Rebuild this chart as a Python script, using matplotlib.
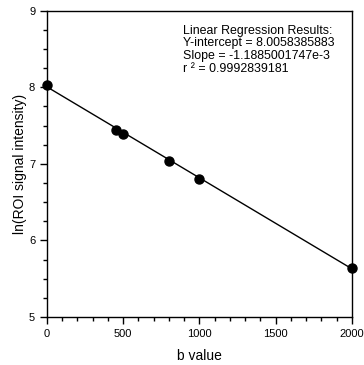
import matplotlib
matplotlib.use("Agg")
import matplotlib.pyplot as plt
import numpy as np
from matplotlib.ticker import MultipleLocator

plt.rcParams['font.family'] = ['Liberation Sans', 'DejaVu Sans']

# data
b_values = [0, 450, 500, 800, 1000, 2000]
ln_signal = [8.03, 7.447, 7.386, 7.04, 6.807, 5.637]

intercept = 8.0058385883
slope = -1.1885001747e-3
r2 = 0.9992839181

fig = plt.figure(figsize=(3.64, 3.65), dpi=100)
ax = fig.add_axes([0.129, 0.1315, 0.838, 0.839])

xfit = np.array([0, 2000])
ax.plot(xfit, intercept + slope * xfit, color='black', lw=1)
ax.plot(b_values, ln_signal, 'o', color='black', markersize=6.5, clip_on=False, zorder=3)

ax.set_xlim(0, 2000)
ax.set_ylim(5, 9)
ax.xaxis.set_major_locator(MultipleLocator(500))
ax.xaxis.set_minor_locator(MultipleLocator(100))
ax.yaxis.set_major_locator(MultipleLocator(1))
ax.yaxis.set_minor_locator(MultipleLocator(0.25))
ax.tick_params(which='both', direction='out', top=False, right=False, labelsize=8, width=1)
ax.tick_params(which='major', length=5)
ax.tick_params(which='minor', length=3)
for s in ax.spines.values():
    s.set_linewidth(1)

ax.set_xlabel('b value', fontsize=10, labelpad=7)
ax.set_ylabel('ln(ROI signal intensity)', fontsize=10, labelpad=1.5)

txt = ("Linear Regression Results:\n"
       "Y-intercept = %.10f\n"
       "Slope = -1.1885001747e-3\n"
       "r \u00b2 = %.10f" % (intercept, r2))
ax.text(0.445, 0.955, txt, transform=ax.transAxes, fontsize=8.9, va='top', ha='left', linespacing=1.1)

fig.savefig('out.png', dpi=100)
